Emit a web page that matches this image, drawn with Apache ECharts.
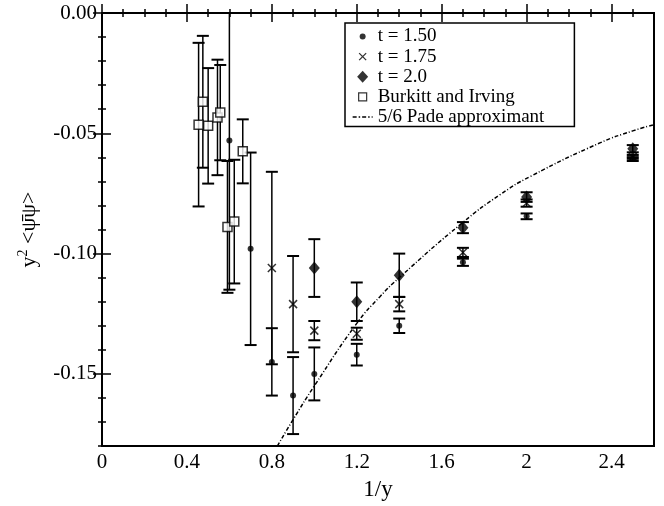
<!DOCTYPE html>
<html>
<head>
<meta charset="utf-8">
<script src="https://cdn.jsdelivr.net/npm/echarts@6/dist/echarts.min.js"></script>
<style>
html, body { margin: 0; padding: 0; background: #fff; }
#chart { width: 664px; height: 506px; }
</style>
</head>
<body>
<div id="chart"></div>
<script>
// tick positions
var xMajorTicks = [0, 0.4, 0.8, 1.2, 1.6, 2.0, 2.4];
var yMajorTicks = [-0.15, -0.10, -0.05, 0.00];

// t = 1.50 (dots)
var t150X = [0.6, 0.7, 0.8, 0.9, 1.0, 1.2, 1.4, 1.7, 2.0, 2.5];
var t150Y = [-0.053, -0.098, -0.145, -0.159, -0.150, -0.142, -0.130, -0.1036, -0.0845, -0.0607];
var t150E = [0.062, 0.040, 0.014, 0.016, 0.011, 0.0045, 0.003, 0.0015, 0.0012, 0.0008];

// t = 1.75 (crosses)
var t175X = [0.8, 0.9, 1.0, 1.2, 1.4, 1.7, 2.0, 2.5];
var t175Y = [-0.106, -0.121, -0.132, -0.1333, -0.121, -0.0995, -0.079, -0.0598];
var t175E = [0.040, 0.020, 0.004, 0.0025, 0.003, 0.0019, 0.0015, 0.0008];

// t = 2.0 (diamonds)
var t200X = [1.0, 1.2, 1.4, 1.7, 2.0, 2.5];
var t200Y = [-0.106, -0.120, -0.109, -0.0892, -0.0765, -0.0564];
var t200E = [0.012, 0.008, 0.009, 0.0023, 0.002, 0.0015];

// Burkitt and Irving (open squares)
var biX = [0.455, 0.475, 0.50, 0.544, 0.557, 0.591, 0.623, 0.663];
var biY = [-0.0464, -0.0369, -0.0469, -0.0434, -0.0414, -0.0889, -0.0867, -0.0575];
var biE = [0.034, 0.0274, 0.024, 0.024, 0.0198, 0.0274, 0.0257, 0.0133];

// 5/6 Pade approximant
var padeX = [0.826, 0.9, 1.0, 1.2, 1.31, 1.4, 1.7, 1.875, 2.016, 2.345, 2.5, 2.6];
var padeY = [-0.180, -0.169, -0.155, -0.129, -0.1178, -0.110, -0.087, -0.0755, -0.068, -0.054, -0.049, -0.0464];

var xMinorTicks = [];
for (var i = 1; i <= 25; i++) { if (i % 4) xMinorTicks.push(+(i * 0.1).toFixed(1)); }
var yMinorTicks = [];
for (var j = 1; j <= 18; j++) { if (j % 5) yMinorTicks.push(+(-j * 0.01).toFixed(2)); }

var FONT = 'Liberation Serif';

function pairs(xs, ys) {
    return xs.map(function (x, i) { return [x, ys[i]]; });
}
function errRows(xs, ys, es) {
    return xs.map(function (x, i) { return [x, ys[i], es[i]]; });
}

function renderErr(params, api) {
    var x = api.value(0), y = api.value(1), e = api.value(2);
    var hi = api.coord([x, y + e]);
    var lo = api.coord([x, y - e]);
    var hw = 6;
    return {
        type: 'group',
        children: [
            { type: 'line', shape: { x1: hi[0], y1: hi[1], x2: lo[0], y2: lo[1] }, style: { stroke: '#000', lineWidth: 1.5 } },
            { type: 'line', shape: { x1: hi[0] - hw, y1: hi[1], x2: hi[0] + hw, y2: hi[1] }, style: { stroke: '#000', lineWidth: 2 } },
            { type: 'line', shape: { x1: lo[0] - hw, y1: lo[1], x2: lo[0] + hw, y2: lo[1] }, style: { stroke: '#000', lineWidth: 2 } }
        ]
    };
}

function errSeries(name, xs, ys, es) {
    return {
        name: name,
        type: 'custom',
        clip: true,
        z: 1,
        renderItem: renderErr,
        data: errRows(xs, ys, es)
    };
}

function xAx(pos, ticks, len, main) {
    return {
        type: 'value', min: 0, max: 2.6, position: pos,
        axisLine: { show: main, lineStyle: { color: '#000', width: 2 } },
        axisTick: { show: true, inside: true, length: len, customValues: ticks, lineStyle: { color: '#000', width: 1.5 } },
        axisLabel: { show: false },
        splitLine: { show: false }
    };
}
function yAx(pos, ticks, len, main) {
    return {
        type: 'value', min: -0.18, max: 0, position: pos,
        axisLine: { show: main, lineStyle: { color: '#000', width: 2 } },
        axisTick: { show: true, inside: true, length: len, customValues: ticks, lineStyle: { color: '#000', width: 1.5 } },
        axisLabel: { show: false },
        splitLine: { show: false }
    };
}

var xBottom = xAx('bottom', xMajorTicks, 9, true);
xBottom.axisLabel = { show: true, customValues: xMajorTicks, margin: 6, color: '#000', fontFamily: FONT, fontSize: 21 };
xBottom.name = '1/y';
xBottom.nameLocation = 'middle';
xBottom.nameGap = 25;
xBottom.nameTextStyle = { color: '#000', fontFamily: FONT, fontSize: 23 };

var yLeft = yAx('left', yMajorTicks, 9, true);
yLeft.axisLabel = {
    show: true, customValues: yMajorTicks, margin: 5, color: '#000', fontFamily: FONT, fontSize: 21,
    formatter: function (v) { return v.toFixed(2); }
};
yLeft.name = 'y{s|2} <\u03C8\u0304\u03C8>';
yLeft.nameLocation = 'middle';
yLeft.nameGap = 60;
yLeft.nameRotate = 90;
yLeft.nameTextStyle = {
    color: '#000', fontFamily: FONT, fontSize: 22, lineHeight: 26,
    rich: { s: { fontFamily: FONT, fontSize: 14, verticalAlign: 'top', lineHeight: 26, color: '#000' } }
};

var iconDot = 'path://M0,0M20,18M13,9A3,3,0,1,1,7,9A3,3,0,1,1,13,9Z';
var iconCross = 'path://M0,0M20,18M6.5,5.5L13.5,12.5M13.5,5.5L6.5,12.5';
var iconDiamond = 'path://M0,0M20,18M10,3L15.5,9L10,15L4.5,9Z';
var iconSquare = 'path://M0,0M20,18M6,5H14V13H6Z';
var iconDashDot = 'path://M0,0M20,18M0,8.3H4V9.7H0ZM6,8.3H7.5V9.7H6ZM9.5,8.3H13.5V9.7H9.5ZM15.5,8.3H17V9.7H15.5ZM19,8.3H20V9.7H19Z';

var option = {
    animation: false,
    backgroundColor: '#fff',
    grid: { left: 102, right: 10, top: 13, bottom: 53, show: true, borderColor: '#000', borderWidth: 2 },
    legend: {
        orient: 'vertical',
        left: 345, top: 23,
        padding: [4, 30, 0, 7],
        itemGap: 1, itemWidth: 20, itemHeight: 19,
        borderColor: '#000', borderWidth: 1.5, borderRadius: 0,
        backgroundColor: '#fff',
        selectedMode: false,
        textStyle: { color: '#000', fontFamily: FONT, fontSize: 19 },
        data: [
            { name: 't = 1.50', icon: iconDot, itemStyle: { color: '#000', borderWidth: 0 } },
            { name: 't = 1.75', icon: iconCross, itemStyle: { color: 'transparent', borderColor: '#000', borderWidth: 1.3 } },
            { name: 't = 2.0', icon: iconDiamond, itemStyle: { color: '#000', borderWidth: 0 } },
            { name: 'Burkitt and Irving', icon: iconSquare, itemStyle: { color: '#fff', borderColor: '#000', borderWidth: 1.2 } },
            { name: '5/6 Pade approximant', icon: iconDashDot, itemStyle: { color: '#000', borderWidth: 0 } }
        ]
    },
    xAxis: [
        xBottom,
        xAx('bottom', xMinorTicks, 4, false),
        xAx('top', xMajorTicks, 9, true),
        xAx('top', xMinorTicks, 4, false)
    ],
    yAxis: [
        yLeft,
        yAx('left', yMinorTicks, 4, false),
        yAx('right', yMajorTicks, 9, true),
        yAx('right', yMinorTicks, 4, false)
    ],
    series: [
        {
            name: '5/6 Pade approximant',
            type: 'line',
            smooth: true,
            symbol: 'none',
            z: 0,
            lineStyle: { color: '#000', width: 1.5, type: [4, 2, 1, 2] },
            itemStyle: { color: '#000' },
            data: pairs(padeX, padeY)
        },
        errSeries('err150', t150X, t150Y, t150E),
        errSeries('err175', t175X, t175Y, t175E),
        errSeries('err200', t200X, t200Y, t200E),
        errSeries('errBI', biX, biY, biE),
        {
            name: 't = 1.50', type: 'scatter', z: 3,
            symbol: 'circle', symbolSize: 6,
            itemStyle: { color: '#000' },
            data: pairs(t150X, t150Y)
        },
        {
            name: 't = 1.75', type: 'scatter', z: 3,
            symbol: 'path://M0,0L10,10M10,0L0,10', symbolSize: 8,
            itemStyle: { color: 'transparent', borderColor: '#000', borderWidth: 1.5 },
            data: pairs(t175X, t175Y)
        },
        {
            name: 't = 2.0', type: 'scatter', z: 3,
            symbol: 'diamond', symbolSize: [11, 13],
            itemStyle: { color: '#000' },
            data: pairs(t200X, t200Y)
        },
        {
            name: 'Burkitt and Irving', type: 'scatter', z: 4,
            symbol: 'rect', symbolSize: 9,
            itemStyle: { color: '#fff', borderColor: '#000', borderWidth: 1.5 },
            data: pairs(biX, biY)
        }
    ]
};

var chart = echarts.init(document.getElementById('chart'));
chart.setOption(option);
</script>
</body>
</html>
